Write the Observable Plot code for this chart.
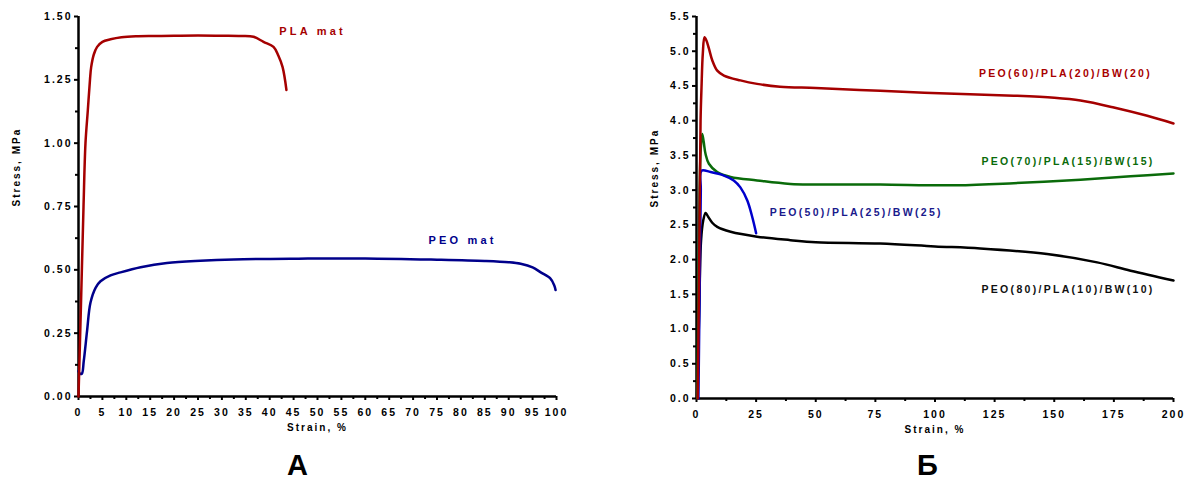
<!DOCTYPE html>
<html><head><meta charset="utf-8">
<script src="https://cdn.jsdelivr.net/npm/d3@7"></script>
<script src="https://cdn.jsdelivr.net/npm/@observablehq/plot@0.6"></script>
<style>
body{margin:0;background:#fff;}
#wrap{position:relative;width:1185px;height:482px;overflow:hidden;font-family:"Liberation Sans",Arial,sans-serif;background:#fff;}
.panel{position:absolute;top:0;}
.letter{position:absolute;font-weight:bold;font-size:29px;line-height:24px;top:453px;color:#000;}
</style></head><body>
<div id="wrap">
  <div id="pa" class="panel" style="left:0"></div>
  <div id="pb" class="panel" style="left:600px"></div>
  <div class="letter" style="left:287px">А</div>
  <div class="letter" style="left:917px">Б</div>
</div>
<script>
// ---------- Panel A data ----------
const plaMatStrain = [0, 0.5, 1.05, 1.46, 1.95, 2.4, 2.65, 3.2, 3.9, 5.0, 6.7, 9, 12, 16, 20, 25, 30, 34, 36.6, 38.7, 40.8, 41.8, 42.7, 43.5];
const plaMatStress = [0, 0.35, 0.75, 1.0, 1.13, 1.25, 1.30, 1.35, 1.38, 1.40, 1.41, 1.418, 1.422, 1.423, 1.424, 1.425, 1.424, 1.423, 1.42, 1.40, 1.38, 1.346, 1.30, 1.21];
const peoMatStrain = [0, 0.3, 0.7, 1.1, 1.8, 2.5, 3.6, 4.6, 6.7, 8.8, 13, 18.5, 25.5, 32.5, 46, 60, 75, 85, 90, 92.5, 95, 96.7, 98.7, 99.5, 99.8];
const peoMatStress = [0.10, 0.09, 0.09, 0.14, 0.26, 0.37, 0.43, 0.455, 0.478, 0.49, 0.51, 0.527, 0.536, 0.541, 0.544, 0.545, 0.54, 0.535, 0.53, 0.524, 0.51, 0.49, 0.466, 0.44, 0.42];
const xTicksA = [0,5,10,15,20,25,30,35,40,45,50,55,60,65,70,75,80,85,90,95,100];
const yTicksA = [0, 0.25, 0.5, 0.75, 1.0, 1.25, 1.5];

// ---------- Panel B data ----------
const blend60Strain = [0.5, 1.0, 1.4, 1.7, 2.1, 2.65, 3.35, 4.2, 5.2, 6.6, 8.7, 11.5, 18.4, 25.4, 35, 50, 77, 105, 133, 150, 161, 175, 189, 200];
const blend60Stress = [0, 1.5, 3.0, 4.0, 4.48, 4.97, 5.2, 5.15, 5.04, 4.87, 4.72, 4.65, 4.58, 4.53, 4.49, 4.47, 4.43, 4.39, 4.36, 4.33, 4.29, 4.19, 4.07, 3.96];
const blend70Strain = [0.3, 0.8, 1.3, 1.8, 2.4, 3.0, 3.8, 5.2, 8.7, 14.3, 25.4, 39.4, 77, 109, 133, 161, 182, 200];
const blend70Stress = [0, 1.5, 3.0, 3.6, 3.81, 3.7, 3.52, 3.38, 3.26, 3.19, 3.14, 3.09, 3.08, 3.07, 3.10, 3.15, 3.20, 3.24];
const blend50Strain = [0.8, 1.3, 1.8, 2.1, 5.9, 11.5, 15.6, 18.4, 21.3, 23.4, 25.0];
const blend50Stress = [0, 1.5, 3.0, 3.28, 3.26, 3.21, 3.14, 3.04, 2.85, 2.61, 2.38];
const blend80Strain = [0.2, 1.1, 1.9, 2.8, 3.8, 4.5, 5.2, 6.6, 8.7, 14.3, 25.4, 39.4, 50, 77, 100, 119, 147, 168, 182, 200];
const blend80Stress = [0, 1.2, 2.27, 2.56, 2.67, 2.64, 2.60, 2.53, 2.47, 2.40, 2.33, 2.28, 2.25, 2.23, 2.19, 2.16, 2.08, 1.96, 1.84, 1.70];
const xTicksB = [0, 25, 50, 75, 100, 125, 150, 175, 200];
const yTicksB = [0, 0.5, 1.0, 1.5, 2.0, 2.5, 3.0, 3.5, 4.0, 4.5, 5.0, 5.5];

const seriesLabelsA = ["PLA mat", "PEO mat"];
const seriesLabelsB = ["PEO(60)/PLA(20)/BW(20)", "PEO(70)/PLA(15)/BW(15)", "PEO(50)/PLA(25)/BW(25)", "PEO(80)/PLA(10)/BW(10)"];

const zip = (xs, ys) => xs.map((x, i) => ({strain: x, stress: ys[i]}));
const mids = t => t.slice(1).map((v, i) => (v + t[i]) / 2);

const svgStyle = "font-family:'Liberation Sans',Arial,sans-serif;font-weight:bold;font-size:10.5px;letter-spacing:2px;color:#000;background:transparent;overflow:visible;";

function axes(xT, yT, yFmt, titleDx) {
  return [
    Plot.axisY({ticks: yT, tickSize: 4, tickPadding: 2, tickFormat: yFmt, strokeWidth: 2, label: null}),
    Plot.axisY({ticks: mids(yT), tickSize: 3, tickFormat: () => "", strokeWidth: 2, label: null}),
    Plot.axisX({ticks: xT, tickSize: 4, tickPadding: 8, tickFormat: d => String(d), strokeWidth: 2, label: null}),
    Plot.axisX({ticks: mids(xT), tickSize: 3, tickFormat: () => "", strokeWidth: 2, label: null}),
    Plot.ruleX([0], {stroke: "#000", strokeWidth: 2.5}),
    Plot.ruleY([0], {stroke: "#000", strokeWidth: 2.5}),
    Plot.text(["Stress, MPa"], {text: d => d, frameAnchor: "left", dx: titleDx, rotate: -90, fontSize: 10, fill: "#000"}),
    Plot.text(["Strain, %"], {text: d => d, frameAnchor: "bottom", dy: 34, fontSize: 10, fill: "#000"})
  ];
}

const lineOpts = (stroke) => ({x: "strain", y: "stress", stroke, strokeWidth: 2.5, curve: "catmull-rom"});
const label = (txt, x, y, fill, size) => Plot.text([txt], {text: d => d, x: () => x, y: () => y, textAnchor: "start", fill, fontSize: size, fontWeight: "bold"});

function spaceLabels(svg, names, spacing) {
  d3.select(svg).selectAll("text").filter(function() { return names.includes(this.textContent); })
    .style("letter-spacing", spacing);
}

const plotA = Plot.plot({
  width: 600, height: 445,
  marginLeft: 78, marginRight: 44, marginTop: 16, marginBottom: 49,
  x: {domain: [0, 100], label: null},
  y: {domain: [0, 1.5], label: null},
  style: svgStyle,
  marks: [
    ...axes(xTicksA, yTicksA, d => d.toFixed(2), -62),
    Plot.line(zip(peoMatStrain, peoMatStress), lineOpts("#00008b")),
    Plot.line(zip(plaMatStrain, plaMatStress), lineOpts("#a50000")),
    label(seriesLabelsA[0], 42, 1.441, "#a50000", 11),
    label(seriesLabelsA[1], 73.2, 0.616, "#00008b", 11)
  ]
});
spaceLabels(plotA, seriesLabelsA, "3.2px");
document.getElementById("pa").appendChild(plotA);

const plotB = Plot.plot({
  width: 585, height: 445,
  marginLeft: 96, marginRight: 12, marginTop: 16, marginBottom: 47,
  x: {domain: [0, 200], label: null},
  y: {domain: [0, 5.5], label: null},
  style: svgStyle,
  marks: [
    ...axes(xTicksB, yTicksB, d => d.toFixed(1), -42),
    Plot.line(zip(blend80Strain, blend80Stress), lineOpts("#000000")),
    Plot.line(zip(blend70Strain, blend70Stress), lineOpts("#0a6b0a")),
    Plot.line(zip(blend50Strain, blend50Stress), lineOpts("#0000cc")),
    Plot.line(zip(blend60Strain, blend60Stress), lineOpts("#a50000")),
    label(seriesLabelsB[0], 118.4, 4.675, "#a80000", 10.5),
    label(seriesLabelsB[1], 119.5, 3.41, "#0a6b0a", 10.5),
    label(seriesLabelsB[2], 30.7, 2.68, "#1a1a8c", 10.5),
    label(seriesLabelsB[3], 119.5, 1.565, "#111111", 10.5)
  ]
});
spaceLabels(plotB, seriesLabelsB, "2.3px");
document.getElementById("pb").appendChild(plotB);
</script>
</body></html>
